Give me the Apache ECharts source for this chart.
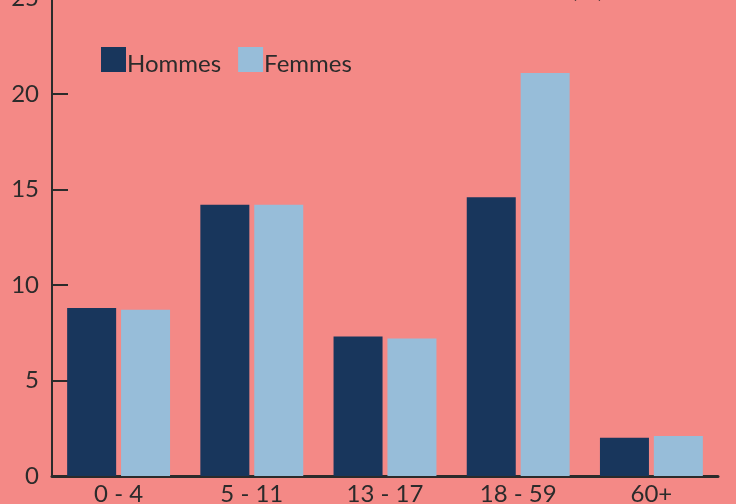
<!DOCTYPE html>
<html>
<head>
<meta charset="utf-8">
<script src="https://cdn.jsdelivr.net/npm/echarts@6/dist/echarts.min.js"></script>
<style>
  html, body { margin: 0; padding: 0; background: #F48986; }
  #chart { width: 736px; height: 504px; }
</style>
</head>
<body>
<div id="chart"></div>
<script>
var categories = ['0 - 4', '5 - 11', '13 - 17', '18 - 59', '60+'];
var hommes = [8.8, 14.2, 7.3, 14.6, 2.0];
var femmes = [8.7, 14.2, 7.2, 21.1, 2.1];
var yTicks = { min: 0, max: 25, interval: 5 };

var txt = '#2b2b2b';
var font = 'Lato';

var option = {
  backgroundColor: '#F48986',
  animation: false,
  title: {
    text: '(%)',
    left: 566, top: -28,
    textStyle: { color: txt, fontFamily: font, fontSize: 24, fontWeight: 'bold' }
  },
  legend: {
    left: 96, top: 42,
    itemWidth: 25, itemHeight: 25, itemGap: 17,
    icon: 'rect',
    formatter: '{t|{name}}',
    textStyle: {
      color: txt, fontFamily: font, fontSize: 24, padding: [0, 0, 0, -4],
      rich: { t: { color: txt, fontFamily: font, fontSize: 24, padding: [10, 0, 0, 0] } }
    },
    data: ['Hommes', 'Femmes']
  },
  grid: { left: 52, right: 18, top: -1.5, bottom: 28, containLabel: false, outerBoundsMode: 'none' },
  xAxis: {
    type: 'category',
    data: categories,
    axisLine: { lineStyle: { color: txt, width: 3 } },
    axisTick: { inside: true, length: 11, lineStyle: { color: txt, width: 2 } },
    axisLabel: { color: txt, fontFamily: font, fontSize: 24, margin: 6 }
  },
  yAxis: {
    type: 'value',
    min: yTicks.min, max: yTicks.max, interval: yTicks.interval,
    splitLine: { show: false },
    axisLine: { show: true, lineStyle: { color: txt, width: 2 } },
    axisTick: { show: true, inside: true, length: 16, lineStyle: { color: txt, width: 2 } },
    axisLabel: { color: txt, fontFamily: font, fontSize: 24, margin: 13 }
  },
  series: [{
    name: 'Hommes', type: 'bar', data: hommes,
    barWidth: 49, barGap: '10%',
    itemStyle: { color: '#18365C' }
  }, {
    name: 'Femmes', type: 'bar', data: femmes,
    barWidth: 49,
    itemStyle: { color: '#97BDD9' }
  }]
};

var myChart = echarts.init(document.getElementById('chart'));
myChart.setOption(option);
</script>
</body>
</html>
